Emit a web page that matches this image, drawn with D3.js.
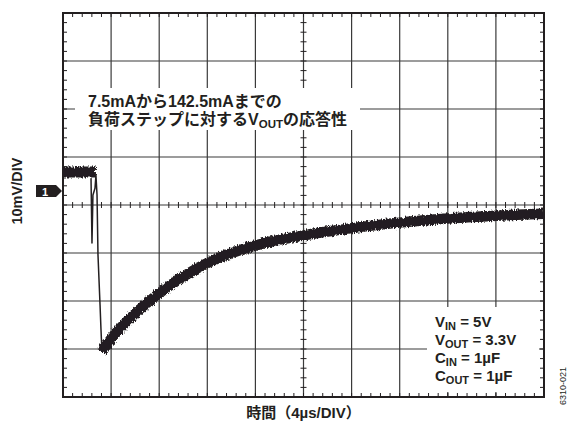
<!DOCTYPE html>
<html>
<head>
<meta charset="utf-8">
<script src="https://cdn.jsdelivr.net/npm/d3@7"></script>
<style>
  body { margin: 0; background: #fff; }
  svg text { font-family: "Liberation Sans", "Noto Sans CJK JP", sans-serif; fill: #231f20; }
</style>
</head>
<body>
<svg id="chart" width="569" height="423"></svg>
<script>
// time axis (µs) and voltage axis (mV, AC coupled, centre = 0)
const xDivs = d3.range(0, 44, 4);
const yDivs = d3.range(-40, 50, 10);

// fast initial edge (thin trace)
const edgeT = [2.33, 2.41, 2.49, 2.66, 2.74, 2.83, 2.91, 3.08, 3.16, 3.24];
const edgeV = [5.6, -7.9, 2.1, 3.5, 6.2, 2.1, -10.4, -20.8, -26.0, -30.6];

// pre-step level
const flatT = [0, 2.74];
const flatV = [6.9, 6.9];

// recovery (thick noisy trace)
const recT = [3.24, 3.58, 4.07, 4.57, 6.0, 7.4, 8.9, 10.15, 12, 13.9, 16.1, 18, 20, 22, 24, 28, 32, 36, 40];
const recV = [-30.6, -29.3, -27.6, -26.1, -22.5, -19.5, -16.7, -14.6, -12.0, -10.0, -8.3, -7.2, -6.3, -5.5, -4.8, -3.6, -2.8, -2.2, -1.8];

const markerLevel = 2.9;

const svg = d3.select("#chart");
const m = { left: 63, right: 25, top: 13, bottom: 26 };
const W = 569, H = 423;

const x = d3.scaleLinear().domain([0, 40]).range([m.left, W - m.right]);
const y = d3.scaleLinear().domain([-40, 40]).range([H - m.bottom, m.top]);

const ink = "#231f20";

// noise filter for the scope trace
const defs = svg.append("defs");
const f = defs.append("filter").attr("id", "noise").attr("filterUnits", "userSpaceOnUse")
    .attr("x", 0).attr("y", 0).attr("width", W).attr("height", H);
f.append("feTurbulence").attr("type", "fractalNoise").attr("baseFrequency", "0.9 0.3").attr("numOctaves", 2).attr("seed", 3).attr("result", "t");
f.append("feDisplacementMap").attr("in", "SourceGraphic").attr("in2", "t").attr("scale", 5).attr("xChannelSelector", "R").attr("yChannelSelector", "G");

// Grid
const grid = svg.append("g").attr("stroke", "#3a3a3a").attr("stroke-width", 1.2);
grid.selectAll(".v").data(xDivs.slice(1, -1)).enter().append("line")
    .attr("x1", d => x(d)).attr("x2", d => x(d))
    .attr("y1", y(40)).attr("y2", y(-40));
grid.selectAll(".h").data(yDivs.slice(1, -1)).enter().append("line")
    .attr("y1", d => y(d)).attr("y2", d => y(d))
    .attr("x1", x(0)).attr("x2", x(40));

// Minor ticks (5 per division) on border and centre lines
const minorX = d3.range(0.8, 40, 0.8);
const minorY = d3.range(-38, 40, 2);
const ticks = svg.append("g").attr("stroke", ink).attr("stroke-width", 1);
[[y(40), 0, 4], [y(-40), -4, 0], [y(0), -3, 3]].forEach(([yy, a, b]) => {
    ticks.append("g").selectAll("line").data(minorX).enter().append("line")
        .attr("x1", d => x(d)).attr("x2", d => x(d))
        .attr("y1", yy + a).attr("y2", yy + b);
});
[[x(0), 0, 4], [x(40), -4, 0], [x(20), -3, 3]].forEach(([xx, a, b]) => {
    ticks.append("g").selectAll("line").data(minorY).enter().append("line")
        .attr("y1", d => y(d)).attr("y2", d => y(d))
        .attr("x1", xx + a).attr("x2", xx + b);
});

// Annotation backgrounds (mask grid)
svg.append("rect").attr("x", 75).attr("y", 88).attr("width", 285).attr("height", 42).attr("fill", "#fff");
svg.append("rect").attr("x", 427).attr("y", 307).attr("width", 112).attr("height", 85).attr("fill", "#fff");

// Border
svg.append("rect")
    .attr("x", x(0)).attr("y", y(40))
    .attr("width", x(40) - x(0)).attr("height", y(-40) - y(40))
    .attr("fill", "none").attr("stroke", ink).attr("stroke-width", 2);

// Traces
const line = d3.line().x(d => x(d[0])).y(d => y(d[1]));
const trace = svg.append("g").attr("fill", "none").attr("stroke", ink).attr("stroke-linejoin", "round");

trace.append("path").datum(d3.zip(flatT, flatV)).attr("d", line)
    .attr("stroke-width", 11).attr("stroke-linecap", "butt").attr("filter", "url(#noise)");
trace.append("path").datum(d3.zip(edgeT, edgeV)).attr("d", line)
    .attr("stroke-width", 1.5);
trace.append("path").datum(d3.zip(recT, recV)).attr("d", line.curve(d3.curveBasis))
    .attr("stroke-width", 10.5).attr("stroke-linecap", "butt").attr("filter", "url(#noise)");

// Annotation text
const ann = svg.append("text").attr("font-size", 16).attr("font-weight", 600);
ann.append("tspan").attr("x", 88).attr("y", 107).text("7.5mAから142.5mAまでの");
ann.append("tspan").attr("x", 88).attr("y", 125).text("負荷ステップに対するV");
ann.append("tspan").attr("font-size", 11.5).attr("dy", 3).text("OUT");
ann.append("tspan").attr("dy", -3).text("の応答性");

// Conditions
const cond = [["V", "IN", " = 5V"], ["V", "OUT", " = 3.3V"], ["C", "IN", " = 1µF"], ["C", "OUT", " = 1µF"]];
const ct = svg.append("g").attr("font-size", 15).attr("font-weight", 600);
cond.forEach((c, i) => {
    const t = ct.append("text").attr("x", 435).attr("y", 327 + i * 18);
    t.append("tspan").text(c[0]);
    t.append("tspan").attr("font-size", 11).attr("dy", 3).text(c[1]);
    t.append("tspan").attr("dy", -3).text(c[2]);
});

// Channel marker
const my = y(markerLevel);
svg.append("path")
    .attr("d", `M36,${my - 6}H56L62,${my}L56,${my + 6}H36Z`)
    .attr("fill", ink);
svg.append("text").attr("x", 45).attr("y", my + 4.5).attr("text-anchor", "middle")
    .attr("font-size", 11).attr("font-weight", "bold").style("fill", "#fff").text("1");

// Axis labels
svg.append("text")
    .attr("transform", `translate(22,${my}) rotate(-90)`)
    .attr("text-anchor", "middle").attr("font-size", 14.5).attr("font-weight", "bold")
    .text("10mV/DIV");
svg.append("text")
    .attr("x", x(20)).attr("y", 418).attr("text-anchor", "middle")
    .attr("font-size", 15).attr("font-weight", "bold")
    .text("時間（4µs/DIV）");
svg.append("text")
    .attr("transform", `translate(566,386) rotate(-90)`)
    .attr("text-anchor", "middle").attr("font-size", 9)
    .text("6310-021");
</script>
</body>
</html>
